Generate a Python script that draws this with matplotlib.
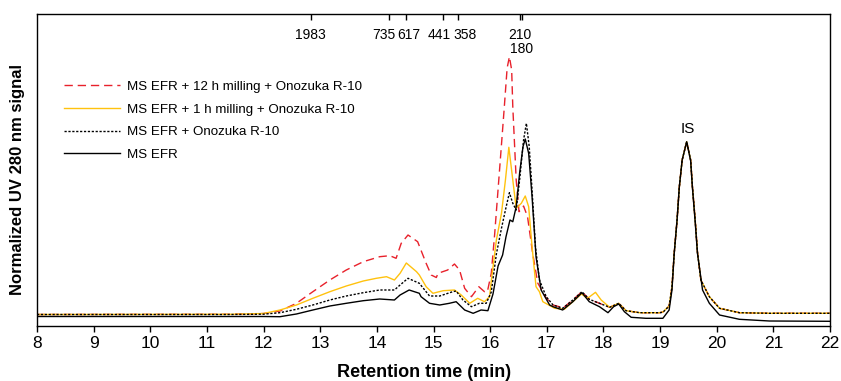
import matplotlib
matplotlib.use("Agg")
import matplotlib.pyplot as plt

plt.rcParams["font.family"] = ["Liberation Sans", "DejaVu Sans"]

# Retention time (min) and UV 280 nm signal (arbitrary normalized units)
t_12h = [8.00, 11.40, 12.00, 12.29, 12.58, 12.87, 13.17, 13.46, 13.76, 14.05, 14.23, 14.34,
         14.43, 14.55, 14.72, 14.87, 14.96, 15.05, 15.08, 15.25, 15.37, 15.46, 15.55, 15.67,
         15.80, 15.90, 15.95, 16.02, 16.08, 16.17, 16.25, 16.30, 16.34, 16.38, 16.40, 16.46,
         16.51, 16.59, 16.66, 16.75, 16.84, 16.99, 17.11, 17.22, 17.28, 17.46, 17.62, 17.75,
         17.93, 18.11, 18.27, 18.40, 18.64, 18.99, 19.05, 19.16, 19.21, 19.25, 19.30, 19.34,
         19.39, 19.47, 19.54, 19.57, 19.62, 19.66, 19.72, 19.87, 20.05, 20.40, 20.93, 22.00]
s_12h = [11.5, 11.7, 12.5, 15.0, 22.7, 34.3, 46.0, 56.0, 64.3, 69.3, 70.3, 67.7,
         82.7, 91.0, 84.3, 62.7, 51.0, 48.5, 52.7, 56.0, 62.0, 56.0, 37.7, 29.3,
         39.3, 34.3, 34.0, 52.7, 92.0, 159.0, 219.0, 258.0, 269.3, 256.0, 219.0, 146.0,
         114.3, 120.0, 109.3, 73.0, 43.0, 28.0, 21.0, 19.3, 17.7, 26.0, 34.3, 26.7,
         22.7, 18.7, 22.7, 15.3, 13.3, 13.3, 14.0, 20.0, 39.0, 73.0, 106.0, 139.0,
         166.0, 184.3, 166.0, 140.0, 106.0, 74.0, 46.0, 29.3, 17.7, 13.3, 12.7, 12.7]

t_1h = [8.00, 11.40, 12.00, 12.29, 12.58, 12.87, 13.17, 13.46, 13.76, 13.99, 14.17, 14.31,
        14.41, 14.52, 14.70, 14.75, 14.87, 14.99, 15.17, 15.37, 15.49, 15.64, 15.78, 15.90,
        15.99, 16.02, 16.11, 16.20, 16.27, 16.33, 16.40, 16.46, 16.55, 16.62, 16.68, 16.74,
        16.81, 16.87, 16.93, 17.14, 17.31, 17.46, 17.61, 17.72, 17.86, 17.96, 18.11, 18.27,
        18.40, 18.64, 18.99, 19.05, 19.16, 19.21, 19.25, 19.30, 19.34, 19.39, 19.47, 19.54,
        19.57, 19.62, 19.66, 19.72, 19.87, 20.05, 20.40, 20.93, 22.00]
s_1h = [11.5, 11.7, 12.5, 16.0, 21.0, 27.7, 34.3, 40.0, 45.0, 47.7, 49.3, 46.0,
        52.7, 63.0, 54.3, 51.0, 39.3, 32.7, 35.3, 36.0, 31.0, 22.7, 27.7, 24.3,
        29.3, 45.0, 86.0, 112.7, 146.0, 178.7, 146.0, 117.7, 122.7, 130.0, 119.3, 79.3,
        39.3, 34.3, 24.3, 17.7, 16.7, 24.3, 32.0, 27.7, 33.7, 26.0, 18.7, 22.7,
        15.3, 13.3, 13.3, 14.0, 20.0, 39.0, 73.0, 106.0, 139.0, 166.0, 184.3, 166.0,
        140.0, 106.0, 74.0, 46.0, 29.3, 17.7, 13.3, 12.7, 12.7]

t_enz = [8.00, 11.40, 12.00, 12.29, 12.58, 12.87, 13.17, 13.46, 13.76, 14.05, 14.31, 14.41,
         14.55, 14.75, 14.93, 15.11, 15.34, 15.40, 15.52, 15.67, 15.81, 15.93, 16.02, 16.11,
         16.20, 16.27, 16.34, 16.40, 16.46, 16.52, 16.59, 16.64, 16.69, 16.74, 16.80, 16.87,
         16.99, 17.11, 17.28, 17.46, 17.62, 17.75, 17.93, 18.11, 18.27, 18.40, 18.64, 18.99,
         19.05, 19.16, 19.21, 19.25, 19.30, 19.34, 19.39, 19.47, 19.54, 19.57, 19.62, 19.66,
         19.72, 19.87, 20.05, 20.40, 20.93, 22.00]
s_enz = [11.5, 11.5, 11.8, 13.3, 16.7, 21.0, 26.0, 30.0, 33.3, 36.0, 36.0, 41.0,
         47.7, 42.7, 30.0, 30.0, 34.3, 35.0, 26.0, 19.3, 22.7, 22.7, 34.0, 72.0,
         97.7, 116.0, 133.3, 122.7, 116.0, 146.0, 186.0, 202.7, 179.3, 136.0, 79.3, 46.0,
         29.3, 21.0, 17.7, 26.0, 34.3, 26.7, 22.7, 18.7, 22.7, 15.3, 13.3, 13.3,
         13.7, 20.0, 39.0, 73.0, 106.0, 139.0, 166.0, 184.3, 166.0, 140.0, 106.0, 74.0,
         46.0, 29.3, 17.7, 13.3, 12.7, 12.7]

t_efr = [8.00, 11.40, 12.00, 12.29, 12.58, 12.87, 13.17, 13.46, 13.76, 14.05, 14.31, 14.41,
         14.57, 14.75, 14.78, 14.93, 15.11, 15.28, 15.40, 15.55, 15.70, 15.84, 15.96, 16.05,
         16.14, 16.22, 16.28, 16.35, 16.40, 16.46, 16.52, 16.58, 16.62, 16.68, 16.74, 16.81,
         16.90, 17.05, 17.11, 17.28, 17.46, 17.62, 17.75, 17.93, 18.08, 18.18, 18.27, 18.37,
         18.49, 18.75, 19.05, 19.16, 19.21, 19.25, 19.30, 19.34, 19.39, 19.47, 19.54, 19.57,
         19.62, 19.66, 19.75, 19.87, 20.05, 20.40, 20.93, 22.00]
s_efr = [9.5, 9.5, 9.5, 9.3, 12.0, 16.0, 20.0, 22.7, 25.3, 27.0, 26.0, 31.0,
         36.0, 32.7, 29.3, 22.7, 21.0, 22.7, 24.3, 16.0, 12.7, 16.0, 15.3, 32.0,
         60.0, 71.0, 89.3, 106.0, 104.3, 119.3, 152.7, 179.3, 187.0, 172.7, 129.3, 69.3,
         36.0, 21.0, 19.3, 16.0, 24.3, 33.3, 24.3, 19.3, 13.3, 19.3, 22.0, 14.3,
         8.7, 7.7, 7.7, 16.0, 36.0, 72.7, 106.0, 139.3, 166.0, 184.3, 165.0, 139.3,
         104.0, 72.7, 36.0, 22.7, 11.0, 6.7, 5.0, 4.7]

# Molecular weight calibration markers (retention time, label)
mw_times = [12.83, 14.22, 14.52, 15.17, 15.44, 16.53, 16.56]
mw_labels = ["1983", "735", "617", "441", "358", "210", "180"]

is_time = 19.47
is_signal = 184.3

labels = ["MS EFR + 12 h milling + Onozuka R-10",
          "MS EFR + 1 h milling + Onozuka R-10",
          "MS EFR + Onozuka R-10",
          "MS EFR"]

fig = plt.figure(figsize=(8.41, 3.81), dpi=100)
ax = fig.add_axes([37 / 841, 55 / 381, 793 / 841, 312 / 381])

red = "#e8212b"
gold = "#ffc20e"
ax.plot(t_12h, s_12h, color=red, lw=1.0, dashes=(6, 3.5), label=labels[0])
ax.plot(t_1h, s_1h, color=gold, lw=1.0, label=labels[1])
ax.plot(t_enz, s_enz, color="black", lw=1.0, dashes=(1.6, 1.2), label=labels[2])
ax.plot(t_efr, s_efr, color="black", lw=1.0, label=labels[3])

ax.set_xlim(8, 22)
ax.set_ylim(0, 312)
ax.set_xticks(range(8, 23))
ax.set_yticks([])
ax.tick_params(axis="x", direction="out", length=4, width=1, labelsize=12.5, pad=3)
for sp in ax.spines.values():
    sp.set_linewidth(1.0)

ax.set_xlabel("Retention time (min)", fontsize=13, fontweight="bold")
ax.xaxis.set_label_coords(0.488, -0.122)
ax.set_ylabel("Normalized UV 280 nm signal", fontsize=12, fontweight="bold")
ax.yaxis.set_label_coords(-0.015, 0.468)

# calibration marks along the top edge
top = ax.secondary_xaxis("top")
top.set_xticks(mw_times)
top.set_xticklabels([])
top.tick_params(direction="in", length=4, width=1)
top.spines["top"].set_visible(False)

label_shift = [0, -4, 2, -3, 5, 0, 0]
label_row = [0, 0, 0, 0, 0, 0, 1]
for tm, lab, dx, row in zip(mw_times, mw_labels, label_shift, label_row):
    ax.annotate(lab, xy=(tm, 1.0), xycoords=("data", "axes fraction"),
                xytext=(dx, -15 - 10 * row), textcoords="offset points",
                ha="center", va="center", fontsize=10)

ax.annotate("IS", xy=(is_time, is_signal), xytext=(1, 4), textcoords="offset points",
            ha="center", va="bottom", fontsize=11)

leg = ax.legend(loc="upper left", bbox_to_anchor=(0.027, 0.804), frameon=False,
                fontsize=9.6, handlelength=4.2, handletextpad=0.55, labelspacing=0.78,
                borderaxespad=0)

fig.savefig("out.png", dpi=100)
